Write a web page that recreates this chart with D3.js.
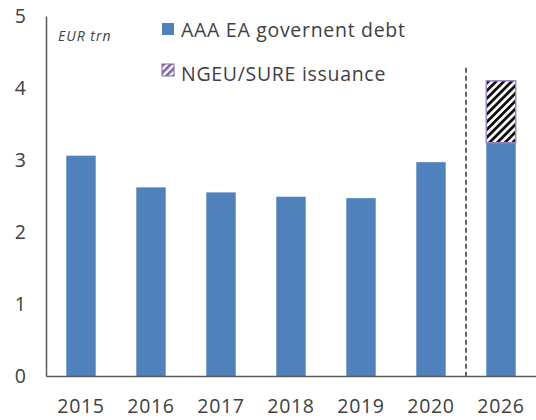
<!DOCTYPE html>
<html>
<head>
<meta charset="utf-8">
<script src="https://cdn.jsdelivr.net/npm/d3@7"></script>
<style>
  body { margin: 0; background: #fff; }
  text { font-family: "Open Sans", "Liberation Sans", sans-serif; fill: #404040; }
</style>
</head>
<body>
<div id="chart"></div>
<script>
// data
var years = ["2015", "2016", "2017", "2018", "2019", "2020", "2026"];
var govDebt = [3.06, 2.62, 2.55, 2.49, 2.47, 2.97, 3.24];
var ngeuSure = [0, 0, 0, 0, 0, 0, 0.86];
var yTicks = [0, 1, 2, 3, 4, 5];
var seriesNames = ["AAA EA governent debt", "NGEU/SURE issuance"];
var unitLabel = "EUR trn";

var width = 536, height = 420;
var margin = {top: 16, right: 0, bottom: 44, left: 46};

var svg = d3.select("#chart").append("svg")
    .attr("width", width)
    .attr("height", height);

var defs = svg.append("defs");

// black/white diagonal hatch for the bar
var hatch = defs.append("pattern")
    .attr("id", "hatch")
    .attr("patternUnits", "userSpaceOnUse")
    .attr("width", 5.5).attr("height", 5.5)
    .attr("patternTransform", "rotate(45)");
hatch.append("rect").attr("width", 5.5).attr("height", 5.5).attr("fill", "#fff");
hatch.append("rect").attr("width", 2.8).attr("height", 5.5).attr("fill", "#111");

// purple hatch for the legend key
var hatchKey = defs.append("pattern")
    .attr("id", "hatchKey")
    .attr("patternUnits", "userSpaceOnUse")
    .attr("width", 5).attr("height", 5)
    .attr("patternTransform", "rotate(45)");
hatchKey.append("rect").attr("width", 5).attr("height", 5).attr("fill", "#fff");
hatchKey.append("rect").attr("width", 2.6).attr("height", 5).attr("fill", "#8064a2");

var x = d3.scaleBand()
    .domain(years)
    .range([margin.left, width - margin.right])
    .paddingInner(0.58)
    .paddingOuter(0.29);

var y = d3.scaleLinear()
    .domain([0, 5])
    .range([height - margin.bottom, margin.top]);

var rows = years.map(function(d, i) {
  return {year: d, gov: govDebt[i], ngeu: ngeuSure[i]};
});
var stacked = d3.stack().keys(["gov", "ngeu"])(rows);

var fills = {gov: "#4f81bd", ngeu: "url(#hatch)"};

svg.append("g").selectAll("g")
    .data(stacked)
  .enter().append("g")
    .attr("fill", function(s) { return fills[s.key]; })
    .attr("stroke", function(s) { return s.key === "ngeu" ? "#9b84c6" : "none"; })
    .attr("stroke-width", 1.5)
  .selectAll("rect")
    .data(function(s) { return s.filter(function(d) { return d[1] - d[0] > 0; }); })
  .enter().append("rect")
    .attr("x", function(d) { return x(d.data.year); })
    .attr("width", x.bandwidth())
    .attr("y", function(d) { return y(d[1]); })
    .attr("height", function(d) { return y(d[0]) - y(d[1]); });

// dashed divider between history and projection
var divX = (x("2020") + x.bandwidth() + x("2026")) / 2;
svg.append("line")
    .attr("x1", divX).attr("x2", divX)
    .attr("y1", y(4.28)).attr("y2", y(0))
    .attr("stroke", "#333")
    .attr("stroke-width", 1.5)
    .attr("stroke-dasharray", "5,3");

// axes
var yAxis = svg.append("g")
    .attr("transform", "translate(" + margin.left + ",0)")
    .call(d3.axisLeft(y).tickValues(yTicks).tickFormat(d3.format("d")).tickSize(0).tickPadding(20));
yAxis.select(".domain").attr("stroke", "#595959").attr("stroke-width", 1.5);
yAxis.selectAll("text").style("font-size", "19.5px").attr("fill", "#404040");

var xAxis = svg.append("g")
    .attr("transform", "translate(0," + y(0) + ")")
    .call(d3.axisBottom(x).tickSize(0).tickPadding(23.5));
xAxis.select(".domain").attr("stroke", "#595959").attr("stroke-width", 1.5);
xAxis.selectAll("text").style("font-size", "19.5px").style("letter-spacing", "0.7px").attr("fill", "#404040");

// unit label
svg.append("text")
    .attr("x", 58).attr("y", 41)
    .style("font-size", "14px")
    .style("font-style", "italic")
    .style("letter-spacing", "1px")
    .text(unitLabel);

// legend
var legend = svg.append("g");
var keyFills = ["#4f81bd", "url(#hatchKey)"];
var keyY = [23, 64], textY = [37, 81];
seriesNames.forEach(function(name, i) {
  legend.append("rect")
      .attr("x", 162).attr("y", keyY[i])
      .attr("width", 12).attr("height", 12)
      .attr("fill", keyFills[i])
      .attr("stroke", i === 1 ? "#8064a2" : "none")
      .attr("stroke-width", 1);
  legend.append("text")
      .attr("x", 181).attr("y", textY[i])
      .style("font-size", "19.5px")
      .style("letter-spacing", "0.7px")
      .text(name);
});
</script>
</body>
</html>
